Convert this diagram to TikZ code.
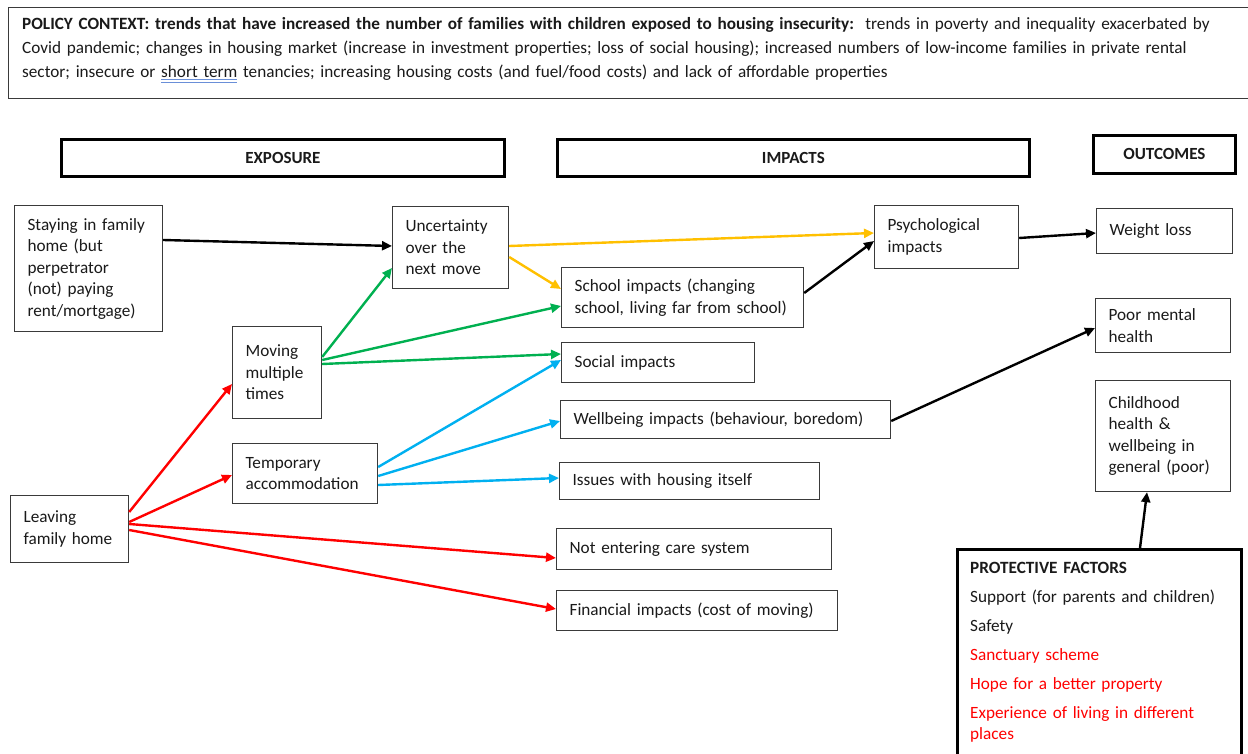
\documentclass[tikz,border=0pt]{standalone}
\usepackage{fontspec}
\setmainfont{Carlito}
\usetikzlibrary{arrows.meta}
\definecolor{cyel}{HTML}{FFC000}
\definecolor{cgrn}{HTML}{00B050}
\definecolor{cblu}{HTML}{00B0F0}
\definecolor{cred}{HTML}{FF0000}
\definecolor{ulblue}{HTML}{6A8FD8}
\definecolor{edgec}{HTML}{3A3A3A}
\definecolor{txt}{HTML}{1A1A1A}
\newsavebox\ulbox
\newcommand\spellul[1]{\sbox\ulbox{#1}\rlap{\textcolor{ulblue}{\rule[-3pt]{\wd\ulbox}{0.8pt}}}\rlap{\textcolor{ulblue}{\rule[-5.5pt]{\wd\ulbox}{0.8pt}}}\usebox\ulbox}
\begin{document}
\begin{tikzpicture}[x=1pt,y=-1pt,
  every node/.style={font=\fontsize{17.2}{21.5}\selectfont, text=txt},
  box/.style={draw=edgec, line width=1.2pt, anchor=north west, align=left, inner xsep=13pt, inner ysep=0pt},
  hdr/.style={draw=black, line width=2.8pt, anchor=north west, inner sep=0pt, font=\fontsize{17}{18}\selectfont\bfseries},
  arr/.style={line width=2.4pt, -{Triangle[length=10pt,width=9pt]}},
]
\useasboundingbox (0,0) rectangle (1248,754);
\fill[white] (0,0) rectangle (1248,754);

% policy context
\node[draw=edgec, line width=1.2pt, anchor=north west, minimum width=1260pt, minimum height=91pt, inner sep=0pt] (policy) at (8,7) {};
\node[anchor=north west, inner sep=0pt, align=left, text width=1222pt, font=\fontsize{17.2}{24}\selectfont] (policytxt) at (22,17)
{\textbf{POLICY CONTEXT: trends that have increased the number of families with children exposed to housing insecurity:}\ \ trends in poverty and inequality exacerbated by\\
Covid pandemic; changes in housing market (increase in investment properties; loss of social housing); increased numbers of low-income families in private rental\\
sector; insecure or \spellul{short term} tenancies; increasing housing costs (and fuel/food costs) and lack of affordable properties};

% headers
\node[hdr, minimum width=443pt, minimum height=37pt] (hexp) at (60,138) {EXPOSURE};
\node[hdr, minimum width=472pt, minimum height=37pt] (himp) at (556,138) {IMPACTS};
\node[hdr, minimum width=142pt, minimum height=38pt] (hout) at (1092,134) {OUTCOMES};

% exposure boxes
\node[box, text width=122pt, minimum height=126pt] (stay) at (14,205) {Staying in family\\home (but\\perpetrator\\(not) paying\\rent/mortgage)};
\node[box, text width=92pt, minimum height=67pt] (leave) at (10,495) {Leaving\\family home};
\node[box, text width=63pt, minimum height=92pt] (mov) at (232,326) {Moving\\multiple\\times};
\node[box, text width=119pt, minimum height=60pt] (temp) at (232,443) {Temporary\\accommodation};
\node[box, text width=90pt, minimum height=82pt] (unc) at (392,206) {Uncertainty\\over the\\next move};

% impacts boxes
\node[box, text width=118pt, minimum height=63pt] (psy) at (874,205) {Psychological\\impacts};
\node[box, text width=216pt, minimum height=60pt] (school) at (561,267) {School impacts (changing\\school, living far from school)};
\node[box, text width=167pt, minimum height=40pt] (social) at (561,342) {Social impacts};
\node[box, text width=304pt, minimum height=38pt] (well) at (560,400) {Wellbeing impacts (behaviour, boredom)};
\node[box, text width=234pt, minimum height=37pt] (issues) at (559,462) {Issues with housing itself};
\node[box, text width=249pt, minimum height=41pt] (care) at (556,528) {Not entering care system};
\node[box, text width=255pt, minimum height=40pt] (fin) at (556,590) {Financial impacts (cost of moving)};

% outcomes boxes
\node[box, text width=110pt, minimum height=45pt] (weight) at (1096,208) {Weight loss};
\node[box, text width=109pt, minimum height=54pt] (poor) at (1095,298) {Poor mental\\health};
\node[box, text width=109pt, minimum height=111pt] (child) at (1095,380) {Childhood\\health \&\\wellbeing in\\general (poor)};

% protective factors
\node[draw=black, line width=2.8pt, anchor=north west, minimum width=284pt, minimum height=240pt, inner sep=0pt] (prot) at (956,548) {};
\node[anchor=north west, inner sep=0pt, align=left, text width=265pt] (prottxt) at (970,562)
{\textbf{PROTECTIVE FACTORS}\\[7.5pt]
Support (for parents and children)\\[7.5pt]
Safety\\[7.5pt]
\textcolor{cred}{Sanctuary scheme}\\[7.5pt]
\textcolor{cred}{Hope for a better property}\\[7.5pt]
\textcolor{cred}{Experience of living in different}\\
\textcolor{cred}{places}};

% connectors
\draw[arr, black] (stay.east |- 0,240) -- (unc.west |- 0,246);
\draw[arr, cyel] (unc.east |- 0,246) -- (psy.west |- 0,233);
\draw[arr, cyel] (unc.east |- 0,257) -- (school.west |- 0,289);
\draw[arr, black] (school.east |- 0,293) -- (psy.west |- 0,241);
\draw[arr, black] (psy.east |- 0,238) -- (weight.west |- 0,233);
\draw[arr, cgrn] (mov.east |- 0,357) -- (unc.west |- 0,268);
\draw[arr, cgrn] (mov.east |- 0,360) -- (school.west |- 0,306);
\draw[arr, cgrn] (mov.east |- 0,364) -- (social.west |- 0,354);
\draw[arr, cblu] (temp.east |- 0,467) -- (social.west |- 0,360);
\draw[arr, cblu] (temp.east |- 0,476) -- (well.west |- 0,421);
\draw[arr, cblu] (temp.east |- 0,485) -- (issues.west |- 0,478);
\draw[arr, cred] (leave.east |- 0,512) -- (mov.west |- 0,384);
\draw[arr, cred] (leave.east |- 0,522) -- (temp.west |- 0,475);
\draw[arr, cred] (leave.east |- 0,524) -- (care.west |- 0,558);
\draw[arr, cred] (leave.east |- 0,530) -- (fin.west |- 0,609);
\draw[arr, black] (well.east |- 0,421) -- (poor.west |- 0,328);
\draw[arr, black] (prot.north -| 1140,0) -- (child.south -| 1147,0);
\end{tikzpicture}
\end{document}
